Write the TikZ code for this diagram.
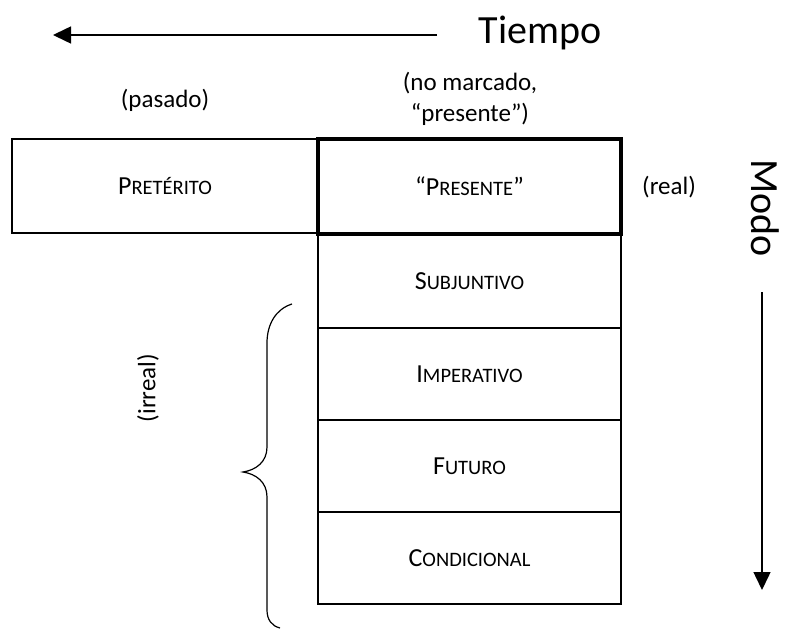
\documentclass[tikz,border=0pt]{standalone}
\usepackage{fontspec}
\setmainfont{Carlito}
\usetikzlibrary{arrows.meta}
\newcommand\smcp[2]{#1{\fontsize{20.5}{21}\selectfont #2}}
\begin{document}
\begin{tikzpicture}[x=1pt,y=-1pt,
  cell/.style={draw,line width=2.3pt,inner sep=0pt,font=\fontsize{26}{27}\selectfont},
  lbl/.style={inner sep=0pt,font=\fontsize{25}{31}\selectfont,align=center},
  big/.style={inner sep=0pt,font=\fontsize{40}{44}\selectfont},
  axis/.style={line width=1.5pt,-{Triangle[length=18pt,width=17pt]}}]
\useasboundingbox (0,0) rectangle (788,637);
% table
\node[cell,minimum width=306pt,minimum height=94pt] (pret) at (165,186) {\smcp{P}{RETÉRITO}};
\node[cell,minimum width=303pt,minimum height=94pt] (subj) at (469.5,281) {\smcp{S}{UBJUNTIVO}};
\node[cell,minimum width=303pt,minimum height=92pt] (imp) at (469.5,374) {\smcp{I}{MPERATIVO}};
\node[cell,minimum width=303pt,minimum height=92pt] (fut) at (469.5,466) {\smcp{F}{UTURO}};
\node[cell,minimum width=303pt,minimum height=92pt] (cond) at (469.5,558) {\smcp{C}{ONDICIONAL}};
\node[cell,line width=4pt,minimum width=303pt,minimum height=95pt] (pres) at (469.5,186.5) {\smcp{“P}{RESENTE}”};
% labels
\node[lbl] (pasado) at (165,100) {(pasado)};
\node[lbl] (nomarc) at (470,99) {(no marcado,\\“presente”)};
\node[lbl,anchor=west] (real) at (642,187) {(real)};
\node[lbl,rotate=90] (irreal) at (148,388) {(irreal)};
% axes
\node[big] (tiempo) at (540,33) {Tiempo};
\coordinate (tstart) at (437,35);
\coordinate (tend) at (53,35);
\draw[axis] (tstart) -- (tend);
\node[big,rotate=-90] (modo) at (765,208) {Modo};
\coordinate (mstart) at (762,292);
\coordinate (mend) at (762,590);
\draw[axis] (mstart) -- (mend);
% brace
\coordinate (btop) at (292,304);
\coordinate (btip) at (243,472);
\coordinate (bbot) at (280,628);
\draw[line width=1.2pt] (btop) .. controls (276,309) and (267,324) .. (267,343)
  -- (267,447) .. controls (267,462) and (256,470) .. (btip)
  .. controls (256,474) and (267,482) .. (267,497)
  -- (267,610) .. controls (267,620) and (272,626) .. (bbot);
\end{tikzpicture}
\end{document}
